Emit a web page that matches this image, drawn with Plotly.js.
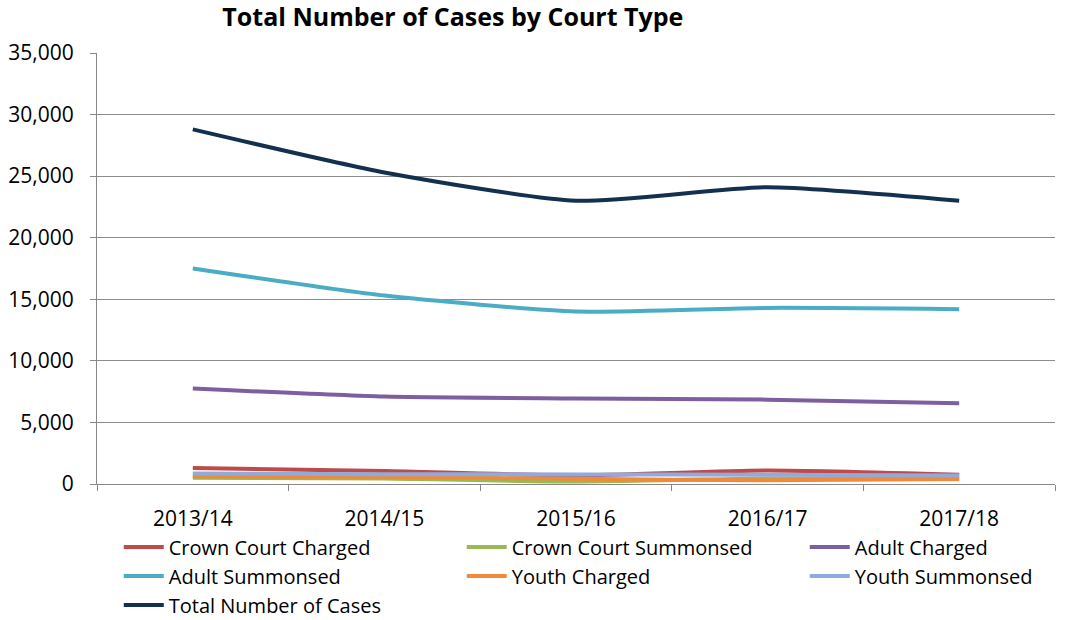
<!DOCTYPE html>
<html><head><meta charset="utf-8">
<script src="https://cdn.plot.ly/plotly-3.0.1.min.js"></script>
<style>body{margin:0;background:#fff}#chart{width:1068px;height:620px}</style>
</head><body><div id="chart"></div>
<script>
const years = ["2013/14","2014/15","2015/16","2016/17","2017/18"];
const crownCharged   = [1300, 1050, 700, 1100, 750];
const crownSummonsed = [500, 450, 200, 450, 400];
const adultCharged   = [7750, 7100, 6950, 6850, 6550];
const adultSummonsed = [17500, 15300, 14000, 14300, 14200];
const youthCharged   = [620, 580, 420, 300, 400];
const youthSummonsed = [850, 800, 780, 750, 700];
const totalCases     = [28800, 25300, 23000, 24100, 23000];
const yTicks = [0,5000,10000,15000,20000,25000,30000,35000];

const FONT = "Open Sans, sans-serif";
function tr(name, y, color){
  return {x: years, y: y, name: name, type: 'scatter', mode: 'lines',
    line: {color: color, width: 4, shape: 'spline', smoothing: 0.6}};
}
const data = [
  tr("Crown Court Charged", crownCharged, "#BE4B48"),
  tr("Crown Court Summonsed", crownSummonsed, "#98B954"),
  tr("Adult Charged", adultCharged, "#7D5FA0"),
  tr("Adult Summonsed", adultSummonsed, "#4AACC5"),
  tr("Youth Charged", youthCharged, "#F08A3A"),
  tr("Youth Summonsed", youthSummonsed, "#8FAADC"),
  tr("Total Number of Cases", totalCases, "#14304F")
];
const layout = {
  width: 1068, height: 620,
  margin: {l: 97, r: 13, t: 53, b: 135.5, autoexpand: false},
  paper_bgcolor: '#fff', plot_bgcolor: '#fff',
  font: {family: FONT, size: 21, color: '#000'},
  title: {text: "<b>Total Number of Cases by Court Type</b>", x: 0.424, xref: 'container', xanchor: 'center',
          y: 0.972, yref: 'container', yanchor: 'middle', font: {size: 25, family: FONT}},
  xaxis: {type: 'category', range: [-0.5, 4.5], showgrid: false, showline: true, linecolor: '#888', linewidth: 1,
          ticks: 'outside', tickson: 'boundaries', ticklen: 6, tickcolor: '#888',
          tickfont: {size: 21}, zeroline: false, ticklabelstandoff: 16},
  yaxis: {range: [0, 35000], tickvals: yTicks, tickformat: ',', showgrid: true, gridcolor: '#8c8c8c', gridwidth: 1,
          showline: true, linecolor: '#888', ticks: 'outside', ticklen: 6, tickcolor: '#888',
          tickfont: {size: 21}, zeroline: false, fixedrange: true, ticklabelstandoff: 12},
  showlegend: true,
  legend: {orientation: 'h', x: -0.004, xanchor: 'left', y: -0.101, yanchor: 'top',
           title: {text: '\u00a0\u00a0\u00a0', side: 'left', font: {size: 20}},
           entrywidth: 288, entrywidthmode: 'pixels', font: {size: 20, family: FONT},
           itemwidth: 40, traceorder: 'normal', tracegroupgap: 0}
};
Plotly.newPlot('chart', data, layout, {displayModeBar: false, staticPlot: true});
</script></body></html>
